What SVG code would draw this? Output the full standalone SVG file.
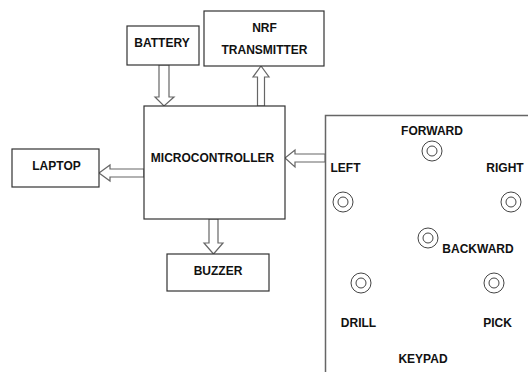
<svg xmlns="http://www.w3.org/2000/svg" width="528" height="372" viewBox="0 0 528 372">
<style>
.box{fill:#fff;stroke:#333;stroke-width:1.2}
.kp{fill:#fff;stroke:#666;stroke-width:1.5}
.arr{fill:#fff;stroke:#666;stroke-width:1.2;stroke-linejoin:miter}
.t{font-family:"Liberation Sans",Arial,sans-serif;font-weight:bold;font-size:12px;fill:#111;text-anchor:middle}
.btn{fill:none;stroke:#444;stroke-width:1}
</style>
<rect width="528" height="372" fill="#fff"/>
<g id="keypad">
<path class="kp" d="M325.5,373 V115.5 H529"/>
<text class="t" x="432" y="135">FORWARD</text>
<text class="t" x="345.5" y="172">LEFT</text>
<text class="t" x="505" y="172">RIGHT</text>
<text class="t" x="478" y="253">BACKWARD</text>
<text class="t" x="358.5" y="327">DRILL</text>
<text class="t" x="497.5" y="327">PICK</text>
<text class="t" x="423" y="363">KEYPAD</text>
<g id="btn-forward"><circle class="btn" cx="432" cy="151" r="10"/><circle class="btn" cx="432" cy="151" r="5"/></g>
<g id="btn-left"><circle class="btn" cx="343" cy="202" r="10"/><circle class="btn" cx="343" cy="202" r="5"/></g>
<g id="btn-right"><circle class="btn" cx="511" cy="202" r="10"/><circle class="btn" cx="511" cy="202" r="5"/></g>
<g id="btn-backward"><circle class="btn" cx="428" cy="238" r="10"/><circle class="btn" cx="428" cy="238" r="5"/></g>
<g id="btn-drill"><circle class="btn" cx="361" cy="283" r="10"/><circle class="btn" cx="361" cy="283" r="5"/></g>
<g id="btn-pick"><circle class="btn" cx="494" cy="283" r="10"/><circle class="btn" cx="494" cy="283" r="5"/></g>
</g>
<g id="connectors">
<polygon class="arr" points="159,65 169,65 169,97 174,97 164,106 155,97 159,97"/>
<polygon class="arr" points="257.5,106 264.5,106 264.5,77 269,77 261,66 253,77 257.5,77"/>
<polygon class="arr" points="144,169 110,169 110,165 99,173 110,181 110,177 144,177"/>
<polygon class="arr" points="325,154 295,154 295,150 285,158 295,167 295,162 325,162"/>
<polygon class="arr" points="209,219 218,219 218,243 223,243 213.5,254 204,243 209,243"/>
</g>
<g id="battery"><rect class="box" x="127" y="26" width="72" height="39"/><text class="t" x="162" y="47">BATTERY</text></g>
<g id="nrf"><rect class="box" x="204" y="11" width="120" height="55"/><text class="t" x="264.5" y="32">NRF</text><text class="t" x="264.5" y="54">TRANSMITTER</text></g>
<g id="microcontroller"><rect class="box" x="144" y="106" width="141" height="113"/><text class="t" x="212.5" y="162">MICROCONTROLLER</text></g>
<g id="laptop"><rect class="box" x="12" y="149" width="87" height="38"/><text class="t" x="56.5" y="170">LAPTOP</text></g>
<g id="buzzer"><rect class="box" x="167" y="254" width="102" height="37"/><text class="t" x="218" y="275">BUZZER</text></g>
</svg>
